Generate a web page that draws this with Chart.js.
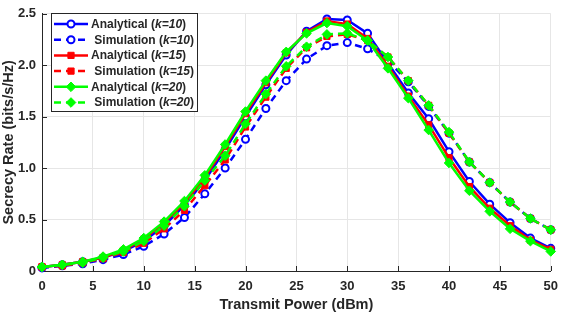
<!DOCTYPE html>
<html>
<head>
<meta charset="utf-8">
<script src="https://cdn.jsdelivr.net/npm/chart.js@4.4.0/dist/chart.umd.min.js"></script>
<style>
  html, body { margin: 0; padding: 0; background: #fff; }
  #wrap { width: 566px; height: 314px; }
</style>
</head>
<body>
<div id="wrap"><canvas id="chart" width="566" height="314"></canvas></div>
<script>
const powerDbm = [0, 2, 4, 6, 8, 10, 12, 14, 16, 18, 20, 22, 24, 26, 28, 30, 32, 34, 36, 38, 40, 42, 44, 46, 48, 50];

const analyticalK10 = [0.04, 0.06, 0.09, 0.13, 0.19, 0.29, 0.44, 0.64, 0.88, 1.18, 1.50, 1.81, 2.10, 2.33, 2.45, 2.44, 2.31, 2.02, 1.73, 1.48, 1.16, 0.87, 0.65, 0.47, 0.32, 0.22];
const simulationK10 = [0.03, 0.05, 0.07, 0.11, 0.16, 0.24, 0.36, 0.52, 0.75, 1.00, 1.28, 1.58, 1.85, 2.06, 2.19, 2.22, 2.16, 2.04, 1.84, 1.60, 1.34, 1.06, 0.86, 0.67, 0.51, 0.40];
const analyticalK15 = [0.04, 0.06, 0.09, 0.13, 0.20, 0.31, 0.47, 0.66, 0.91, 1.21, 1.53, 1.83, 2.12, 2.32, 2.43, 2.40, 2.26, 1.99, 1.70, 1.42, 1.10, 0.82, 0.61, 0.44, 0.30, 0.21];
const simulationK15 = [0.04, 0.05, 0.08, 0.12, 0.18, 0.27, 0.41, 0.59, 0.83, 1.08, 1.40, 1.69, 1.97, 2.17, 2.28, 2.30, 2.24, 2.08, 1.85, 1.61, 1.34, 1.06, 0.86, 0.67, 0.51, 0.40];
const analyticalK20 = [0.04, 0.06, 0.09, 0.14, 0.21, 0.32, 0.48, 0.68, 0.93, 1.23, 1.55, 1.85, 2.13, 2.31, 2.41, 2.38, 2.24, 1.97, 1.68, 1.37, 1.05, 0.78, 0.58, 0.41, 0.29, 0.19];
const simulationK20 = [0.04, 0.06, 0.08, 0.13, 0.19, 0.29, 0.44, 0.63, 0.88, 1.12, 1.43, 1.72, 1.99, 2.18, 2.30, 2.31, 2.24, 2.08, 1.85, 1.61, 1.35, 1.06, 0.86, 0.67, 0.51, 0.40];

const seriesLabels = ['Analytical (k=10)', ' Simulation (k=10)', 'Analytical (k=15)', ' Simulation (k=15)', 'Analytical (k=20)', ' Simulation (k=20)'];
const xTickValues = [0, 5, 10, 15, 20, 25, 30, 35, 40, 45, 50];
const yTickValues = [0, 0.5, 1, 1.5, 2, 2.5];

const FONT = '"Liberation Sans", Arial, Helvetica, sans-serif';
const AXIS_COLOR = '#262626';

function toPoints(values) {
  return values.map((v, i) => ({ x: powerDbm[i], y: v }));
}

// one helper per curve style, MATLAB-ish
function makeSeries(label, values, color, marker, dashed, order) {
  return {
    label: label,
    data: toPoints(values),
    borderColor: color,
    borderWidth: 2.5,
    borderDash: dashed ? [7, 5] : [],
    pointStyle: marker,
    pointBorderColor: color,
    pointBackgroundColor: marker === 'circle' ? '#ffffff' : color,
    pointBorderWidth: marker === 'circle' ? 2 : 1,
    pointRadius: marker === 'circle' ? 3.5 : (marker === 'rect' ? 4.4 : 4.8),
    pointHoverRadius: 5,
    tension: 0,
    fill: false,
    clip: false,
    order: order
  };
}

// ticks pointing into the plot like MATLAB
const innerTicks = {
  id: 'innerTicks',
  beforeDatasetsDraw(chart) {
    const { ctx, chartArea, scales } = chart;
    ctx.save();
    ctx.strokeStyle = AXIS_COLOR;
    ctx.lineWidth = 1;
    ctx.beginPath();
    scales.x.ticks.forEach(t => {
      const px = Math.round(scales.x.getPixelForValue(t.value)) + 0.5;
      ctx.moveTo(px, chartArea.bottom);
      ctx.lineTo(px, chartArea.bottom - 5);
    });
    scales.y.ticks.forEach(t => {
      const py = Math.round(scales.y.getPixelForValue(t.value)) + 0.5;
      ctx.moveTo(chartArea.left, py);
      ctx.lineTo(chartArea.left + 5, py);
    });
    ctx.stroke();
    ctx.restore();
  }
};

// legend box with the italic k=.. part
const matlabLegend = {
  id: 'matlabLegend',
  afterDatasetsDraw(chart) {
    const ctx = chart.ctx;
    const box = { x: 51, y: 13, w: 146, h: 98 };
    ctx.save();
    ctx.fillStyle = '#ffffff';
    ctx.fillRect(box.x, box.y, box.w, box.h);
    ctx.strokeStyle = AXIS_COLOR;
    ctx.lineWidth = 1;
    ctx.strokeRect(box.x + 0.5, box.y + 0.5, box.w, box.h);

    chart.data.datasets.forEach((ds, i) => {
      const cy = box.y + 11 + i * 15.7;
      ctx.strokeStyle = ds.borderColor;
      ctx.lineWidth = ds.borderWidth;
      ctx.setLineDash(ds.borderDash);
      ctx.beginPath();
      ctx.moveTo(54, cy);
      ctx.lineTo(88, cy);
      ctx.stroke();
      ctx.setLineDash([]);

      ctx.fillStyle = ds.pointBackgroundColor;
      ctx.strokeStyle = ds.pointBorderColor;
      ctx.lineWidth = ds.pointBorderWidth;
      Chart.helpers.drawPoint(ctx, {
        pointStyle: ds.pointStyle,
        radius: ds.pointRadius,
        rotation: 0,
        borderWidth: ds.pointBorderWidth
      }, 71, cy);

      const parts = ds.label.split(/(k=\d+)/);
      let tx = 91;
      ctx.fillStyle = AXIS_COLOR;
      ctx.textBaseline = 'middle';
      parts.forEach(p => {
        ctx.font = (p.startsWith('k=') ? 'italic ' : '') + 'bold 12px ' + FONT;
        ctx.fillText(p, tx, cy + 0.5);
        tx += ctx.measureText(p).width;
      });
    });
    ctx.restore();
  }
};

const datasets = [
  makeSeries(seriesLabels[0], analyticalK10, '#0000ff', 'circle', false, 6),
  makeSeries(seriesLabels[1], simulationK10, '#0000ff', 'circle', true, 5),
  makeSeries(seriesLabels[2], analyticalK15, '#ff0000', 'rect', false, 4),
  makeSeries(seriesLabels[3], simulationK15, '#ff0000', 'rect', true, 3),
  makeSeries(seriesLabels[4], analyticalK20, '#00ff00', 'rectRot', false, 2),
  makeSeries(seriesLabels[5], simulationK20, '#00ff00', 'rectRot', true, 1)
];

const ctx = document.getElementById('chart').getContext('2d');
new Chart(ctx, {
  type: 'line',
  data: { datasets: datasets },
  options: {
    responsive: false,
    animation: false,
    events: [],
    layout: { padding: { top: 6, right: 7, left: 0, bottom: 0 } },
    plugins: {
      legend: { display: false },
      tooltip: { enabled: false }
    },
    scales: {
      x: {
        type: 'linear',
        min: 0,
        max: 50,
        afterBuildTicks: s => { s.ticks = xTickValues.map(v => ({ value: v })); },
        afterFit: s => { s.height = 43; },
        grid: { color: '#e6e6e6', drawTicks: false },
        border: { display: true, color: AXIS_COLOR, width: 1 },
        ticks: {
          color: AXIS_COLOR,
          padding: 8,
          maxRotation: 0,
          font: { family: FONT, size: 13, weight: 'bold' }
        },
        title: {
          display: true,
          text: 'Transmit Power (dBm)',
          color: AXIS_COLOR,
          padding: { top: 6.5, bottom: 0 },
          font: { family: FONT, size: 14.5, weight: 'bold' }
        }
      },
      y: {
        min: 0,
        max: 2.5,
        afterBuildTicks: s => { s.ticks = yTickValues.map(v => ({ value: v })); },
        afterFit: s => { s.width = 42; },
        grid: { color: '#e6e6e6', drawTicks: false },
        border: { display: true, color: AXIS_COLOR, width: 1 },
        ticks: {
          color: AXIS_COLOR,
          padding: 6,
          font: { family: FONT, size: 13, weight: 'bold' }
        },
        title: {
          display: true,
          text: 'Secrecy Rate (bits/s/Hz)',
          color: AXIS_COLOR,
          padding: { top: 0.3, bottom: 0 },
          font: { family: FONT, size: 14.5, weight: 'bold' }
        }
      }
    }
  },
  plugins: [innerTicks, matlabLegend]
});
</script>
</body>
</html>
